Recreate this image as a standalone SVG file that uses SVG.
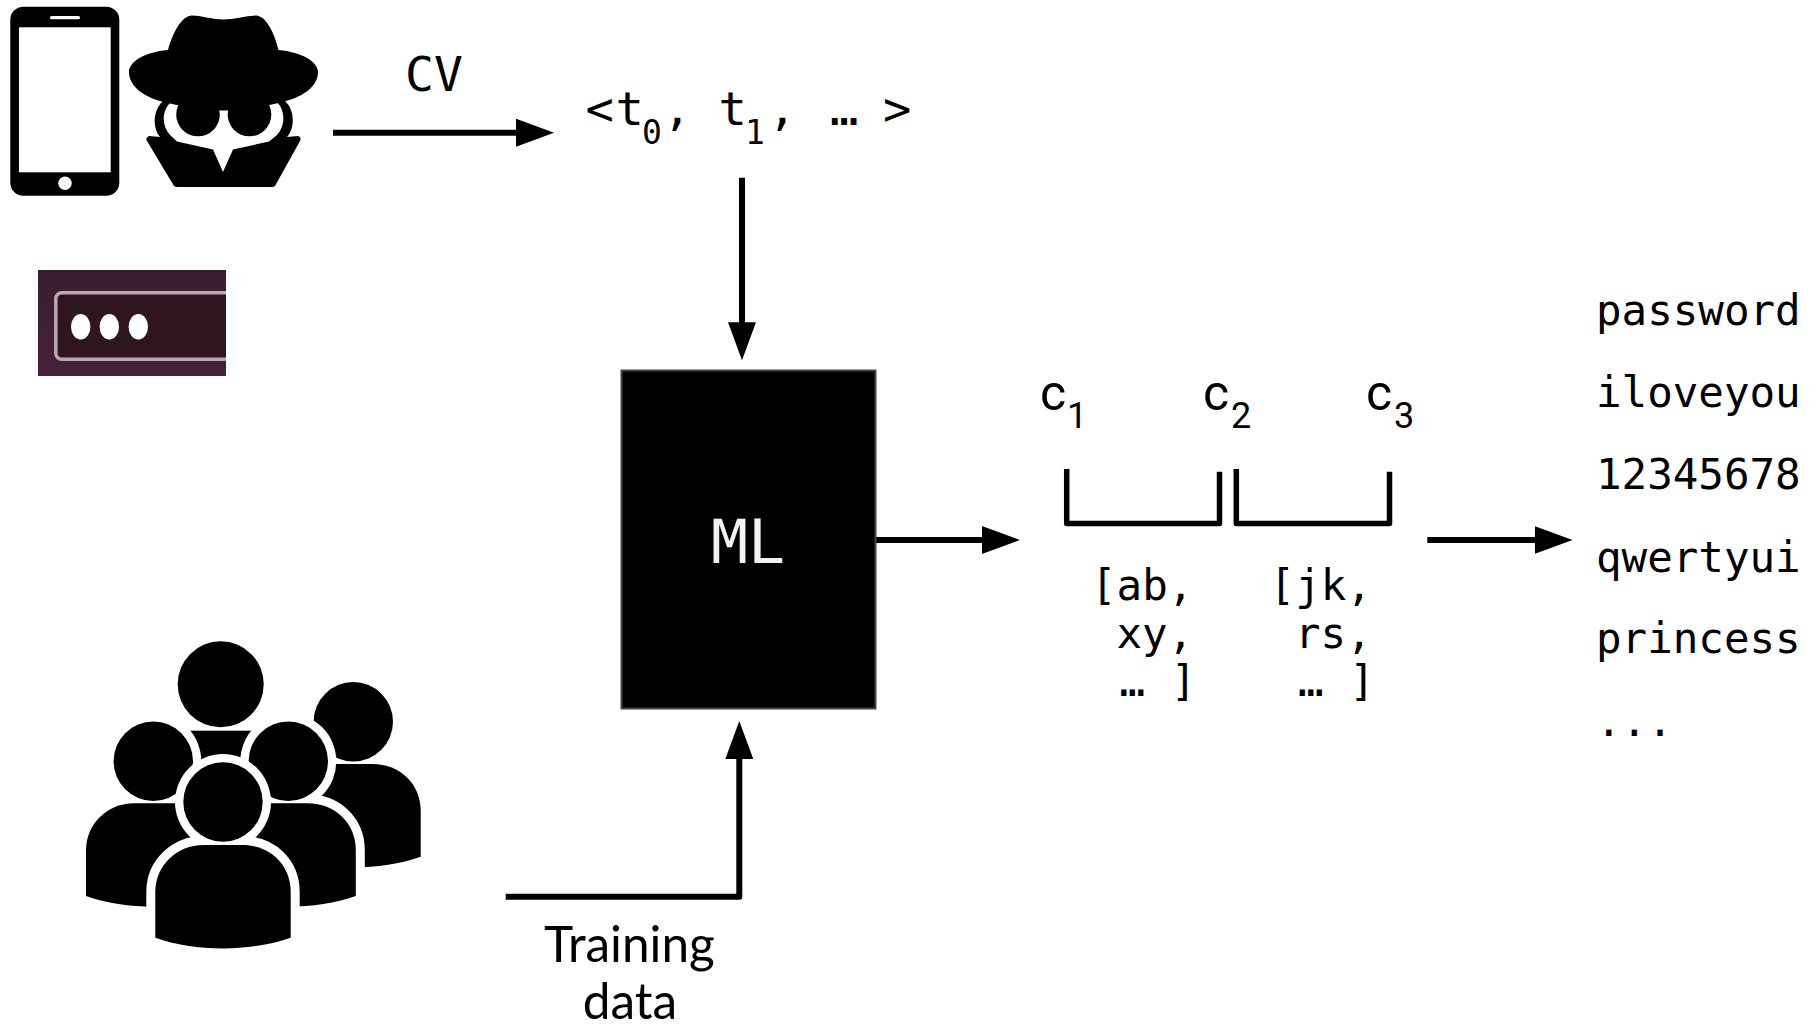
<svg xmlns="http://www.w3.org/2000/svg" width="1818" height="1024" viewBox="0 0 1818 1024">
<style>
.m{font-family:"DejaVu Sans Mono","Liberation Mono",monospace;fill:#000;font-size:42.500px}
.t{font-size:47px}
.s{font-size:33px}
.r{font-family:Roboto,"Liberation Sans",sans-serif;fill:#000;font-size:50px}
.q{font-size:36px}
.l{font-family:Lato,"Liberation Sans",sans-serif;fill:#000;font-size:49.500px;text-anchor:middle}
.k{fill:#000}
.w{fill:#fff}
.h{fill:#fff;stroke:#fff;stroke-width:18;stroke-linejoin:round}
.c{fill:none;stroke:#000;stroke-width:6;stroke-linejoin:round}
.b{fill:none;stroke:#000;stroke-width:5.500;stroke-linejoin:round}
</style>
<defs>
<marker id="a" viewBox="0 0 38 28" refX="1" refY="14" markerWidth="38" markerHeight="28" markerUnits="userSpaceOnUse" orient="auto"><path d="M0 0L38 14L0 28Z"/></marker>
<path id="body" d="M0 92.700L0 47C0 20 22 0 48 0L87 0C115 0 135.400 20 135.400 47L135.400 92.700C95 107 40 107 0 92.700Z"/>
<linearGradient id="g" x1="0" y1="0" x2="0" y2="1"><stop offset="0" stop-color="#391d2d"/><stop offset="1" stop-color="#47213b"/></linearGradient>
<clipPath id="pc"><rect x="38" y="270" width="188" height="106"/></clipPath>
</defs>
<rect width="1818" height="1024" fill="#fff"/>
<g id="phone"><rect class="k" x="10.300" y="6.700" width="109" height="189" rx="13"/><rect class="w" x="19" y="27.300" width="91.700" height="145"/><rect class="w" x="50" y="16" width="30" height="3.300" rx="1.600"/><circle class="w" cx="65" cy="183.300" r="6.700"/></g>
<g id="spy">
<path class="k" d="M163 101C153 110 152 128 160 137L149 136Q145 138 147 141L174 186Q175 187 177 187L272 187Q274 187 275 186L300 141Q302 137 298 136L287 137C295 128 295 110 285 101Z"/>
<path class="w" d="M171 102C162 110 161 125 170 135L177 141.500L213 149.500L223 172L233 149.500L269 141.500L277 135C286 125 285 110 277 102Z"/>
<circle class="k" cx="198" cy="114.500" r="21.800"/><circle class="k" cx="249.500" cy="114.500" r="21.800"/>
<path class="k" d="M168 50C173 32 182 15.500 192 15.500C203 16 213 19.500 223 19.500C234 19.500 245 16 256 15.500C266 16 274 32 278.500 50C302 52 318 62 318 72C318 86 304 96 286 101C268 106 245 110.500 223 110.500C202 110.500 178 106 160 101C143 96 129 86 129 72C129 62 144 52 168 50Z"/>
</g>
<g id="password-box"><rect x="38" y="270" width="188" height="106" fill="url(#g)"/><g clip-path="url(#pc)"><rect x="55.800" y="292.800" width="200" height="66.500" rx="6" fill="#2e1520" stroke="#b5a9af" stroke-width="3.500"/></g><ellipse class="w" cx="80.700" cy="326.700" rx="9.700" ry="12.700"/><ellipse class="w" cx="109.300" cy="326.700" rx="9.700" ry="12.700"/><ellipse class="w" cx="138.300" cy="326.700" rx="9.700" ry="12.700"/></g>
<g id="users">
<use href="#body" class="k" x="285.300" y="764"/>
<circle class="k" cx="353.300" cy="721.700" r="39.700"/>
<circle class="k" cx="220.700" cy="684.300" r="43"/>
<rect class="k" x="185" y="730.700" width="71" height="44"/>
<circle class="w" cx="153.300" cy="761.300" r="48"/>
<use href="#body" class="k" x="86" y="803.300"/>
<circle class="k" cx="153.300" cy="761.300" r="39.700"/>
<circle class="w" cx="288.300" cy="761.300" r="48"/>
<use href="#body" class="h" x="220.400" y="803.300"/>
<use href="#body" class="k" x="220.400" y="803.300"/>
<circle class="k" cx="288.300" cy="761.300" r="39.700"/>
<circle class="w" cx="223" cy="802" r="48"/>
<use href="#body" class="h" x="155.300" y="845"/>
<use href="#body" class="k" x="155.300" y="845"/>
<circle class="k" cx="223" cy="802" r="39.700"/>
</g>
<g id="connectors">
<path class="c" marker-end="url(#a)" d="M333 132.700L517 132.700"/>
<path class="c" marker-end="url(#a)" d="M742 177.700L742 323.300"/>
<path class="c" marker-end="url(#a)" d="M875 540L983 540"/>
<path class="c" marker-end="url(#a)" d="M1427.300 540L1535.500 540"/>
<path class="c" marker-end="url(#a)" d="M505.700 896.700L739.300 896.700L739.300 758"/>
</g>
<g id="ml"><rect x="621.500" y="370.500" width="254" height="338" fill="#000" stroke="#444" stroke-width="2"/><text x="711" y="563" class="m" style="font-size:61px;fill:#f2f2f2" textLength="74" lengthAdjust="spacingAndGlyphs">ML</text></g>
<g id="cv-label"><text x="405" y="91" class="m" style="font-size:48px">CV</text></g>
<g id="sequence">
<text x="585.400" y="125" class="m t">&lt;</text><text x="615.500" y="125" class="m t">t</text><text x="642" y="144" class="m s">0</text><text x="663" y="125" class="m t">,</text><text x="718.500" y="125" class="m t">t</text><text x="745" y="144" class="m s">1</text><text x="768" y="125" class="m t">,</text><text x="830" y="125" class="m t">…</text><text x="883" y="125" class="m t">&gt;</text>
</g>
<g id="labels-c">
<text x="1040" y="410" class="r">c</text><text x="1067" y="428" class="r q">1</text>
<text x="1203" y="410" class="r">c</text><text x="1231" y="428" class="r q">2</text>
<text x="1366" y="410" class="r">c</text><text x="1394" y="428" class="r q">3</text>
</g>
<g id="brackets">
<path class="b" d="M1066.700 469L1066.700 523.500L1219.500 523.500L1219.500 471.700"/>
<path class="b" d="M1236.300 469L1236.300 523.500L1389.500 523.500L1389.500 471.700"/>
</g>
<g id="candidates-1"><text x="1091" y="600.300" class="m">[ab,</text><text x="1116.500" y="648.300" class="m">xy,</text><text x="1119.500" y="696" class="m">… ]</text></g>
<g id="candidates-2"><text x="1269.600" y="600.300" class="m">[jk,</text><text x="1295" y="648.300" class="m">rs,</text><text x="1298" y="696" class="m">… ]</text></g>
<g id="passwords">
<text x="1596" y="325.300" class="m">password</text>
<text x="1596" y="407" class="m">iloveyou</text>
<text x="1596" y="489.300" class="m">12345678</text>
<text x="1596" y="571.700" class="m">qwertyui</text>
<text x="1596" y="653.300" class="m">princess</text>
<text x="1596" y="736" class="m">...</text>
</g>
<g id="training-label"><text x="629.500" y="961.500" class="l">Training</text><text x="630" y="1019" class="l">data</text></g>
</svg>
